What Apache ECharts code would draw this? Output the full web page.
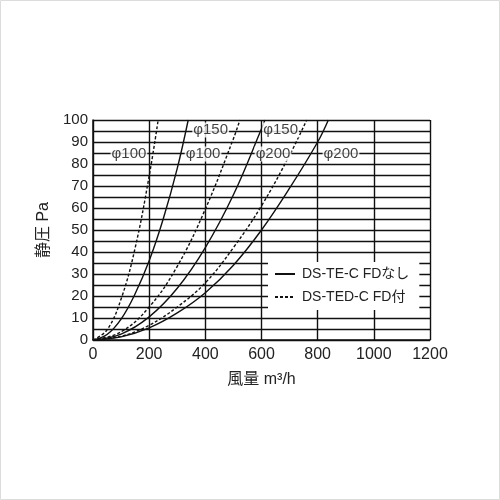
<!DOCTYPE html>
<html>
<head>
<meta charset="utf-8">
<script src="https://cdn.jsdelivr.net/npm/echarts@6/dist/echarts.min.js"></script>
<style>
html,body{margin:0;padding:0;background:#fff;}
#c{width:500px;height:500px;}
</style>
</head>
<body>
<div id="c"></div>
<script>
// Data (airflow m3/h, static pressure Pa)
const xTicks = [0, 200, 400, 600, 800, 1000, 1200];
const yTickLabels = [0, 10, 20, 30, 40, 50, 60, 70, 80, 90, 100];

const legendSolid = 'DS-TE-C FDなし';
const legendDashed = 'DS-TED-C FD付';

const solid100Q = [0, 50, 100, 150, 200, 250, 300, 339];
const solid100P = [0, 2.5, 9.5, 21, 36, 55, 78, 100];
const dashed100Q = [0, 50, 100, 150, 200, 232];
const dashed100P = [0, 4.6, 18.6, 41.8, 74.5, 100];

const solid150Q = [0, 100, 200, 300, 400, 500, 600, 612];
const solid150P = [0, 2.7, 10.5, 23.5, 42, 66, 96, 100];
const dashed150Q = [0, 100, 200, 300, 400, 500, 523];
const dashed150P = [0, 3.7, 15, 33.5, 59.5, 91.5, 100];

const solid200Q = [0, 100, 200, 300, 400, 500, 600, 700, 800, 838];
const solid200P = [0, 1.4, 5.5, 12.3, 21.5, 34, 50, 69, 90, 100];
const dashed200Q = [0, 100, 200, 300, 400, 500, 600, 700, 761];
const dashed200P = [0, 1.7, 6.7, 15, 26, 42, 61, 84, 100];

// curve labels: [Q, P, text]
const curveLabels = [
  [128, 84.5, 'φ100'],
  [419, 95.4, 'φ150'],
  [392, 84.5, 'φ100'],
  [668, 95.4, 'φ150'],
  [641, 84.5, 'φ200'],
  [883, 84.5, 'φ200']
];

function zip(q, p) { return q.map((v, i) => [v, p[i]]); }

const chart = echarts.init(document.getElementById('c'), null, {renderer: 'canvas'});
const font = '"Liberation Sans", Arial, "Noto Sans CJK JP", sans-serif';
const lineColor = '#111';

function curve(name, q, p, dashed) {
  return {
    name: name,
    type: 'line',
    data: zip(q, p),
    smooth: 0.4,
    symbol: 'none',
    showSymbol: false,
    clip: true,
    z: 3,
    lineStyle: {color: lineColor, width: 1.4, type: dashed ? [3, 2] : 'solid'},
    itemStyle: {color: lineColor}
  };
}

chart.setOption({
  animation: false,
  backgroundColor: '#fff',
  textStyle: {fontFamily: font},
  graphic: [{
    type: 'rect', shape: {x: 0.5, y: 0.5, width: 499, height: 499},
    style: {fill: 'none', stroke: '#dcdcdc', lineWidth: 1}, silent: true, z: -10
  }],
  grid: {left: 93, right: 70, top: 120, bottom: 160, containLabel: false},
  xAxis: {
    type: 'value', min: 0, max: 1200, interval: 200,
    name: '風量 m³/h', nameLocation: 'middle', nameGap: 32,
    nameTextStyle: {fontSize: 16, color: '#222', fontFamily: font},
    axisLine: {show: true, lineStyle: {color: lineColor, width: 1.5}},
    axisTick: {show: false},
    axisLabel: {
      fontSize: 16, color: '#222', margin: 7, fontFamily: font,
      formatter: v => (xTicks.indexOf(v) >= 0 ? String(v) : '')
    },
    splitLine: {show: true, lineStyle: {color: lineColor, width: 1.4}}
  },
  yAxis: {
    type: 'value', min: 0, max: 100, interval: 5,
    name: '静圧 Pa', nameLocation: 'middle', nameGap: 35,
    nameTextStyle: {fontSize: 16, color: '#222', fontFamily: font},
    axisLine: {show: true, lineStyle: {color: lineColor, width: 1.5}},
    axisTick: {show: false},
    axisLabel: {
      fontSize: 15, color: '#222', margin: 5, fontFamily: font,
      formatter: v => (yTickLabels.indexOf(v) >= 0 ? String(v) : '')
    },
    splitLine: {show: true, lineStyle: {color: lineColor, width: 1.4}}
  },
  legend: {
    orient: 'vertical',
    left: 268, top: 262,
    width: 158,
    backgroundColor: '#fff',
    padding: [5, 10, 6, 6],
    itemGap: 9,
    itemWidth: 20, itemHeight: 10,
    z: 10,
    data: [legendSolid, legendDashed],
    itemStyle: {opacity: 0},
    textStyle: {fontSize: 14, color: '#222', fontFamily: font, padding: [0, 0, 0, 2]},
    selectedMode: false
  },
  series: [
    curve(legendDashed, dashed100Q, dashed100P, true),
    curve(legendSolid, solid100Q, solid100P, false),
    curve(legendDashed, dashed150Q, dashed150P, true),
    curve(legendSolid, solid150Q, solid150P, false),
    curve(legendDashed, dashed200Q, dashed200P, true),
    curve(legendSolid, solid200Q, solid200P, false),
    {
      type: 'scatter',
      name: 'labels',
      data: curveLabels.map(d => ({value: [d[0], d[1]], name: d[2]})),
      symbolSize: 0,
      z: 5,
      silent: true,
      label: {
        show: true, position: 'inside',
        formatter: p => p.name,
        fontSize: 15, color: '#111', fontFamily: font,
        backgroundColor: '#fff', padding: [0, 1]
      }
    }
  ]
});
</script>
</body>
</html>
